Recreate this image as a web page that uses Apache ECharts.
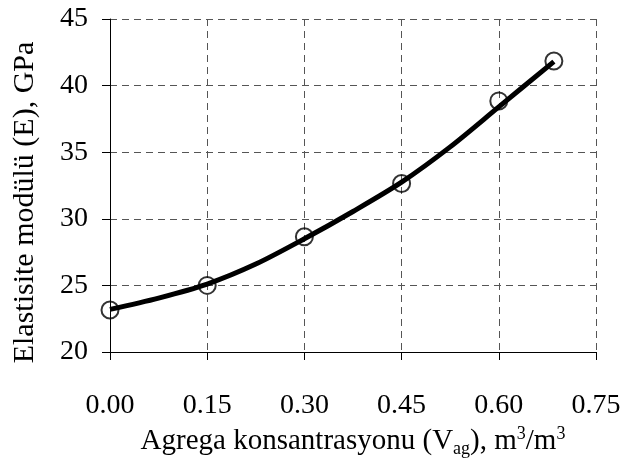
<!DOCTYPE html>
<html>
<head>
<meta charset="utf-8">
<script src="https://cdn.jsdelivr.net/npm/echarts@6/dist/echarts.min.js"></script>
<style>
  html, body { margin: 0; padding: 0; background: #fff; }
  #main { width: 631px; height: 460px; }
</style>
</head>
<body>
<div id="main"></div>
<script>
// olculen noktalar
var agregaHacim = [0, 0.15, 0.30, 0.45, 0.60, 0.685];
var elastisite = [23.15, 25.0, 28.65, 32.65, 38.85, 41.85];
// egilim egrisi, grafikten okunan noktalar
var egriX = [0, 0.075, 0.15, 0.225, 0.30, 0.375, 0.45, 0.525, 0.60, 0.685];
var egriY = [23.2, 24.05, 25.1, 26.6, 28.5, 30.55, 32.75, 35.4, 38.4, 41.8];
var xTicks = [0, 0.15, 0.30, 0.45, 0.60, 0.75];
var yTicks = [20, 25, 30, 35, 40, 45];

var chart = echarts.init(document.getElementById("main"));

var noktalar = agregaHacim.map(function (x, i) {
  return [x, elastisite[i]];
});
var egri = egriX.map(function (x, i) {
  return [x, egriY[i]];
});

var yaziTipi = "Liberation Serif";
var izgara = {
  show: true,
  lineStyle: { color: "#555", width: 1, type: [7, 5] },
};

var option = {
  animation: false,
  backgroundColor: "#fff",
  grid: { left: 110, right: 35, top: 19, bottom: 108, outerBoundsMode: "none" },
  xAxis: {
    type: "value",
    min: xTicks[0],
    max: xTicks[xTicks.length - 1],
    interval: 0.15,
    name: "{n|Agrega konsantrasyonu (V}{sub|ag}{n|), m}{sup|3}{n|/m}{sup|3}",
    nameLocation: "middle",
    nameGap: 72,
    nameTextStyle: {
      rich: {
        n: { fontFamily: yaziTipi, fontSize: 29, color: "#000" },
        sub: { fontFamily: yaziTipi, fontSize: 18, color: "#000", padding: [16, 0, 0, 0] },
        sup: { fontFamily: yaziTipi, fontSize: 18, color: "#000", padding: [0, 0, 14, 0] },
      },
    },
    axisLine: { onZero: false, lineStyle: { color: "#000", width: 1 } },
    axisTick: { show: true, inside: false, length: 8, lineStyle: { color: "#000" } },
    axisLabel: {
      margin: 40,
      fontFamily: yaziTipi,
      fontSize: 28,
      color: "#000",
      formatter: function (v) {
        return v.toFixed(2);
      },
    },
    splitLine: izgara,
  },
  yAxis: {
    type: "value",
    min: yTicks[0],
    max: yTicks[yTicks.length - 1],
    interval: 5,
    name: "Elastisite modülü (E), GPa",
    nameLocation: "middle",
    nameGap: 70,
    // sag dolgu yaziyi biraz asagi kaydiriyor
    nameTextStyle: { fontFamily: yaziTipi, fontSize: 30, color: "#000", padding: [0, 34, 0, 0] },
    axisLine: { show: true, onZero: false, lineStyle: { color: "#000", width: 1 } },
    axisTick: { show: true, inside: false, length: 8, lineStyle: { color: "#000" } },
    axisLabel: {
      margin: 22,
      fontFamily: yaziTipi,
      fontSize: 28,
      color: "#000",
    },
    splitLine: izgara,
  },
  series: [
    {
      type: "line",
      data: egri,
      smooth: 0.3,
      showSymbol: false,
      symbol: "none",
      lineStyle: { color: "#000", width: 5 },
      z: 2,
    },
    {
      type: "scatter",
      data: noktalar,
      symbol: "circle",
      symbolSize: 17,
      itemStyle: { color: "transparent", borderColor: "#000", borderWidth: 2 },
      z: 3,
    },
  ],
};

chart.setOption(option);
</script>
</body>
</html>
